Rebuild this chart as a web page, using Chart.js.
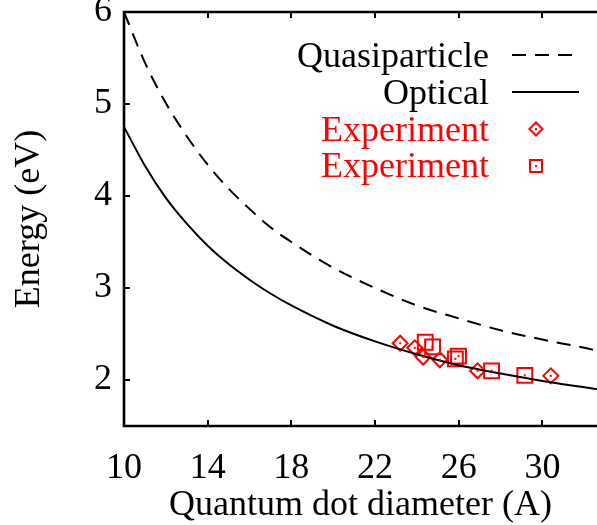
<!DOCTYPE html>
<html>
<head>
<meta charset="utf-8">
<script src="https://cdn.jsdelivr.net/npm/chart.js@4.4.1/dist/chart.umd.min.js"></script>
<style>
html,body{margin:0;padding:0;background:#fff;overflow:hidden;}
canvas{display:block;}
</style>
</head>
<body>
<canvas id="c" width="597" height="525"></canvas>
<script>
// ---- data ----
const diameters = [10, 11, 12, 13, 14, 15, 16, 17, 18, 20, 22, 24, 26, 28, 30, 32, 32.6];
const quasiparticle = [6.00, 5.45, 5.01, 4.65, 4.34, 4.08, 3.86, 3.66, 3.50, 3.22, 3.00, 2.81, 2.67, 2.54, 2.44, 2.35, 2.32];
const optical = [4.75, 4.33, 3.98, 3.70, 3.46, 3.26, 3.09, 2.94, 2.81, 2.59, 2.42, 2.28, 2.16, 2.07, 1.99, 1.92, 1.90];
const expDiamondX = [23.2, 23.9, 24.3, 25.1, 26.9, 30.4];
const expDiamondY = [2.40, 2.35, 2.25, 2.22, 2.10, 2.045];
const expSquareX = [24.4, 24.75, 25.84, 25.99, 27.57, 29.16];
const expSquareY = [2.41, 2.36, 2.23, 2.26, 2.10, 2.05];
const xTicks = [10, 14, 18, 22, 26, 30];
const yTicks = [2, 3, 4, 5, 6];
const seriesLabels = ['Quasiparticle', 'Optical', 'Experiment', 'Experiment'];

const FONT = '"Liberation Serif", "Times New Roman", serif';
const RED = '#ff0000';

const pts = (xs, ys) => xs.map((x, i) => ({x: x, y: ys[i]}));

const framePlugin = {
  id: 'frame',
  beforeDatasetsDraw(chart) {
    const {ctx, chartArea: a, scales} = chart;
    ctx.save();
    ctx.strokeStyle = '#000';
    ctx.lineWidth = 2.6;
    ctx.beginPath();
    ctx.moveTo(a.right + 2, a.top);
    ctx.lineTo(a.left, a.top);
    ctx.lineTo(a.left, a.bottom);
    ctx.lineTo(a.right + 2, a.bottom);
    ctx.stroke();
    ctx.lineWidth = 2;
    ctx.beginPath();
    scales.x.ticks.forEach(t => {
      const px = Math.round(scales.x.getPixelForValue(t.value));
      if (t.value === scales.x.min) return;
      ctx.moveTo(px, a.bottom); ctx.lineTo(px, a.bottom - 6);
      ctx.moveTo(px, a.top); ctx.lineTo(px, a.top + 6);
    });
    scales.y.ticks.forEach(t => {
      const py = Math.round(scales.y.getPixelForValue(t.value));
      if (t.value === scales.y.max) return;
      ctx.moveTo(a.left, py); ctx.lineTo(a.left + 6, py);
    });
    ctx.stroke();
    ctx.restore();
  },
  afterDatasetsDraw(chart) {
    const ctx = chart.ctx;
    ctx.save();
    ctx.fillStyle = RED;
    [2, 3].forEach(di => {
      chart.getDatasetMeta(di).data.forEach(el => {
        ctx.fillRect(el.x - 1, el.y - 1, 2, 2);
      });
    });
    ctx.restore();
  },
  afterDraw(chart) {
    const ctx = chart.ctx;
    const ds = chart.data.datasets;
    const textRight = 489;
    const baselines = [67, 104, 141, 177];
    const mids = [55, 92, 129, 166];
    ctx.save();
    ctx.font = '36px ' + FONT;
    ctx.textAlign = 'right';
    ctx.textBaseline = 'alphabetic';
    ds.forEach((d, i) => {
      ctx.fillStyle = i < 2 ? '#000' : RED;
      ctx.fillText(d.label, textRight, baselines[i]);
    });
    // line samples
    ctx.strokeStyle = '#000';
    ctx.lineWidth = 2;
    ctx.setLineDash([14, 9]);
    ctx.beginPath(); ctx.moveTo(512, mids[0]); ctx.lineTo(579, mids[0]); ctx.stroke();
    ctx.setLineDash([]);
    ctx.beginPath(); ctx.moveTo(512, mids[1]); ctx.lineTo(579, mids[1]); ctx.stroke();
    // point samples
    ctx.strokeStyle = RED;
    ctx.fillStyle = 'rgba(0,0,0,0)';
    ctx.lineWidth = 2;
    Chart.helpers.drawPoint(ctx, {pointStyle: 'rectRot', radius: 6.5, rotation: 0, borderWidth: 2}, 536, mids[2]);
    Chart.helpers.drawPoint(ctx, {pointStyle: 'rect', radius: 8.5, rotation: 0, borderWidth: 2}, 536, mids[3]);
    ctx.fillStyle = RED;
    ctx.fillRect(535, mids[2] - 1, 2, 2);
    ctx.fillRect(535, mids[3] - 1, 2, 2);
    ctx.restore();
  }
};

new Chart(document.getElementById('c'), {
  type: 'scatter',
  data: {
    datasets: [
      {
        label: seriesLabels[0],
        data: pts(diameters, quasiparticle),
        showLine: true, borderColor: '#000', borderWidth: 2, borderDash: [14, 9],
        pointRadius: 0, cubicInterpolationMode: 'monotone', fill: false
      },
      {
        label: seriesLabels[1],
        data: pts(diameters, optical),
        showLine: true, borderColor: '#000', borderWidth: 2,
        pointRadius: 0, cubicInterpolationMode: 'monotone', fill: false
      },
      {
        label: seriesLabels[2],
        data: pts(expDiamondX, expDiamondY),
        pointStyle: 'rectRot', pointRadius: 7.5, borderColor: RED, borderWidth: 2,
        backgroundColor: 'rgba(0,0,0,0)', showLine: false
      },
      {
        label: seriesLabels[3],
        data: pts(expSquareX, expSquareY),
        pointStyle: 'rect', pointRadius: 10.5, borderColor: RED, borderWidth: 2,
        backgroundColor: 'rgba(0,0,0,0)', showLine: false
      }
    ]
  },
  options: {
    responsive: false,
    animation: false,
    devicePixelRatio: 1,
    layout: {autoPadding: false, padding: {top: 12, right: 0, left: 0, bottom: 0}},
    plugins: {legend: {display: false}, tooltip: {enabled: false}},
    scales: {
      x: {
        type: 'linear', min: 10, max: 32.61,
        grid: {display: false, drawTicks: false},
        border: {display: false},
        afterBuildTicks: s => { s.ticks = xTicks.map(v => ({value: v})); },
        afterFit: s => { s.height = 99; s.paddingLeft = 0; s.paddingRight = 0; },
        ticks: {color: '#000', font: {family: FONT, size: 36}, padding: 21, maxRotation: 0, autoSkip: false},
        title: {display: true, text: 'Quantum dot diameter (A)', color: '#000',
                font: {family: FONT, size: 36}, padding: {top: 0, bottom: -2}}
      },
      y: {
        type: 'linear', min: 1.5, max: 6,
        grid: {display: false, drawTicks: false},
        border: {display: false},
        afterBuildTicks: s => { s.ticks = yTicks.map(v => ({value: v})); },
        afterFit: s => { s.width = 124; s.paddingTop = 0; s.paddingBottom = 0; },
        ticks: {color: '#000', font: {family: FONT, size: 36}, padding: 12, autoSkip: false},
        title: {display: true, text: 'Energy (eV)', color: '#000',
                font: {family: FONT, size: 36}, padding: {top: 8, bottom: 0}}
      }
    }
  },
  plugins: [framePlugin]
});
</script>
</body>
</html>
